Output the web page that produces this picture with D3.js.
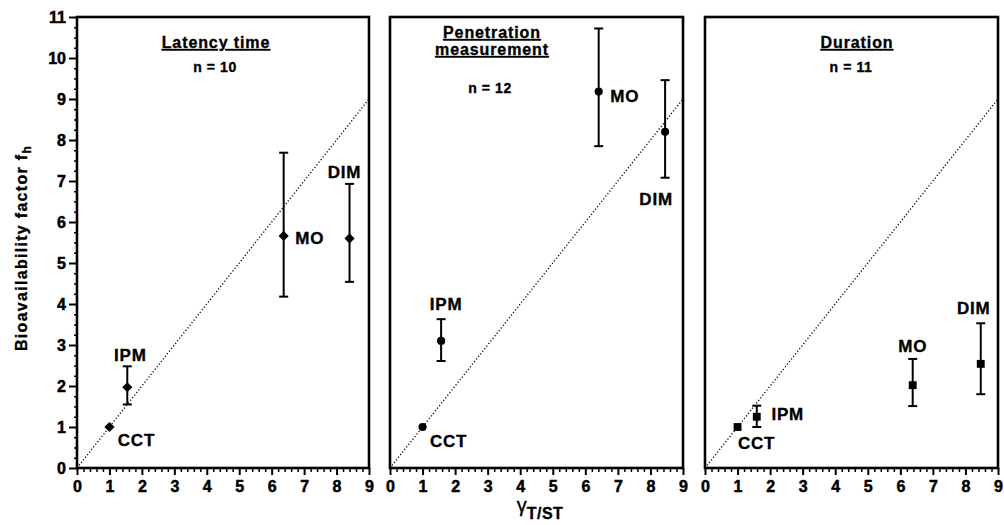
<!DOCTYPE html>
<html><head><meta charset="utf-8">
<script src="https://cdn.jsdelivr.net/npm/d3@7"></script>
<style>
body{margin:0;background:#fff}
svg text{font-family:"Liberation Sans",Arial,Helvetica,sans-serif;font-weight:bold;fill:#000;stroke:#000;stroke-width:0.35px}
svg .tick text{stroke-width:0.5px}
</style>
</head><body>
<svg id="chart" width="1004" height="525"></svg>
<script>
// ---------- data ----------
const panelTitles = [["Latency time"], ["Penetration", "measurement"], ["Duration"]];
const panelN = ["n = 10", "n = 12", "n = 11"];
const methods = ["CCT", "IPM", "MO", "DIM"];
const gammaLatency = [1, 1.55, 6.37, 8.4];
const gammaPenetration = [1, 1.57, 6.41, 8.45];
const gammaDuration = [1, 1.59, 6.38, 8.47];
const fhLatency = [1, 1.97, 5.66, 5.6];
const fhPenetration = [1, 3.1, 9.18, 8.2];
const fhDuration = [1, 1.25, 2.02, 2.54];
const lowLatency = [null, 1.55, 4.18, 4.54];
const lowPenetration = [null, 2.61, 7.85, 7.08];
const lowDuration = [null, 1.0, 1.51, 1.8];
const highLatency = [null, 2.48, 7.69, 6.93];
const highPenetration = [null, 3.63, 10.72, 9.46];
const highDuration = [null, 1.52, 2.66, 3.53];
const xTickValues = [0, 1, 2, 3, 4, 5, 6, 7, 8, 9];
const yTickValues = [0, 1, 2, 3, 4, 5, 6, 7, 8, 9, 10, 11];
const identityLine = [0, 9];

// ---------- layout (positions / styles) ----------
const panelLeft = [77, 390, 705];
const panelRight = [369, 683, 998];
const plotTop = 17, plotBottom = 468;
const titleCenterX = [216, 492, 857];
const titleBaselines = [[48], [38, 55], [48]];
const nBaseline = [72, 93, 72];
const nCenterX = [215, 490, 851];
const markerTypes = ["diamond", "circle", "square"];
// label offsets in px relative to the mean point (centre of label)
const labelOffsets = [
  [[27, 13], [3, -32], [26, 3], [-5, -66]],
  [[26, 14], [5, -36], [26, 5], [-9, 68]],
  [[19, 16], [31, -2], [0, -39], [-7, -55]]
];

const panels = [
  {x: gammaLatency, y: fhLatency, lo: lowLatency, hi: highLatency},
  {x: gammaPenetration, y: fhPenetration, lo: lowPenetration, hi: highPenetration},
  {x: gammaDuration, y: fhDuration, lo: lowDuration, hi: highDuration}
];

const svg = d3.select("#chart");
const y = d3.scaleLinear().domain([0, 11]).range([plotBottom, plotTop]);

panels.forEach((p, i) => {
  const x = d3.scaleLinear().domain([0, 9]).range([panelLeft[i], panelRight[i]]);
  const g = svg.append("g");

  // dotted identity line
  g.append("line")
    .attr("x1", x(identityLine[0])).attr("y1", y(identityLine[0]))
    .attr("x2", x(identityLine[1])).attr("y2", y(identityLine[1]))
    .attr("stroke", "#000").attr("stroke-width", 1.3)
    .attr("stroke-dasharray", "1.2,2.1");

  // x axis minor ticks
  const minorX = d3.range(0, 9.001, 0.2).filter(v => Math.abs(v - Math.round(v)) > 1e-6);
  const xMinor = g.append("g").attr("transform", `translate(0,${plotBottom})`)
    .call(d3.axisBottom(x).tickValues(minorX).tickSize(4).tickFormat(""));
  xMinor.select(".domain").remove();
  xMinor.selectAll("line").attr("stroke-width", 1.5);

  // x axis major
  const xAx = g.append("g").attr("transform", `translate(0,${plotBottom})`)
    .call(d3.axisBottom(x).tickValues(xTickValues).tickSize(7).tickPadding(6).tickFormat(d3.format("d")));
  xAx.select(".domain").remove();
  xAx.selectAll("line").attr("stroke-width", 2);
  xAx.selectAll("text").style("font-size", "16px").attr("font-family", null);

  if (i === 0) {
    const minorY = d3.range(0, 11.001, 0.25).filter(v => Math.abs(v - Math.round(v)) > 1e-6);
    const yMinor = g.append("g").attr("transform", `translate(${panelLeft[0]},0)`)
      .call(d3.axisLeft(y).tickValues(minorY).tickSize(3).tickFormat(""));
    yMinor.select(".domain").remove();
    yMinor.selectAll("line").attr("stroke-width", 1.5);
    const yAx = g.append("g").attr("transform", `translate(${panelLeft[0]},0)`)
      .call(d3.axisLeft(y).tickValues(yTickValues).tickSize(8).tickPadding(3).tickFormat(d3.format("d")));
    yAx.select(".domain").remove();
    yAx.selectAll("line").attr("stroke-width", 2);
    yAx.selectAll("text").style("font-size", "16px").attr("font-family", null);
  }

  // frame
  g.append("rect")
    .attr("x", x(0)).attr("y", y(11))
    .attr("width", x(9) - x(0)).attr("height", y(0) - y(11))
    .attr("fill", "none").attr("stroke", "#000").attr("stroke-width", 2.6);

  // titles
  panelTitles[i].forEach((t, k) => {
    g.append("text")
      .attr("x", titleCenterX[i]).attr("y", titleBaselines[i][k])
      .attr("text-anchor", "middle")
      .style("font-size", "16px").style("letter-spacing", "0.9px")
      .style("text-decoration", "underline")
      .text(t);
  });
  g.append("text")
    .attr("x", nCenterX[i]).attr("y", nBaseline[i])
    .attr("text-anchor", "middle")
    .style("font-size", "14px").style("letter-spacing", "0.6px")
    .text(panelN[i]);

  // error bars
  const capW = 4.5;
  methods.forEach((m, j) => {
    if (p.lo[j] == null) return;
    const cx = x(p.x[j]);
    g.append("line").attr("x1", cx).attr("x2", cx)
      .attr("y1", y(p.lo[j])).attr("y2", y(p.hi[j]))
      .attr("stroke", "#000").attr("stroke-width", 2);
    [p.lo[j], p.hi[j]].forEach(v => {
      g.append("line").attr("x1", cx - capW).attr("x2", cx + capW)
        .attr("y1", y(v)).attr("y2", y(v))
        .attr("stroke", "#000").attr("stroke-width", 2);
    });
  });

  // markers
  methods.forEach((m, j) => {
    const cx = x(p.x[j]), cy = y(p.y[j]);
    const t = markerTypes[i];
    let sym;
    if (t === "diamond") sym = d3.symbol(d3.symbolSquare, 52)();
    else if (t === "circle") sym = d3.symbol(d3.symbolCircle, 52)();
    else sym = d3.symbol(d3.symbolSquare, 62)();
    g.append("path").attr("d", sym)
      .attr("transform", `translate(${cx},${cy})` + (t === "diamond" ? " rotate(45)" : ""))
      .attr("fill", "#000");
  });

  // method labels
  methods.forEach((m, j) => {
    const cx = x(p.x[j]), cy = y(p.y[j]);
    g.append("text")
      .attr("x", cx + labelOffsets[i][j][0]).attr("y", cy + labelOffsets[i][j][1])
      .attr("text-anchor", "middle").attr("dominant-baseline", "central")
      .style("font-size", "17px").style("letter-spacing", "0.8px")
      .text(m);
  });
});

// y axis title
const yt = svg.append("text")
  .attr("transform", "translate(27,248) rotate(-90)")
  .attr("text-anchor", "middle")
  .style("font-size", "16px").style("letter-spacing", "1.3px");
yt.append("tspan").text("Bioavailability factor f");
yt.append("tspan").attr("dy", 4).style("font-size", "12px").text("h");

// x axis title
const xt = svg.append("text")
  .attr("x", 540).attr("y", 512)
  .attr("text-anchor", "middle");
xt.append("tspan").style("font-weight", "normal").style("font-size", "20px").text("γ");
xt.append("tspan").attr("dy", 7).style("font-size", "16px").style("letter-spacing", "0.5px").text("T/ST");
</script>
</body></html>
